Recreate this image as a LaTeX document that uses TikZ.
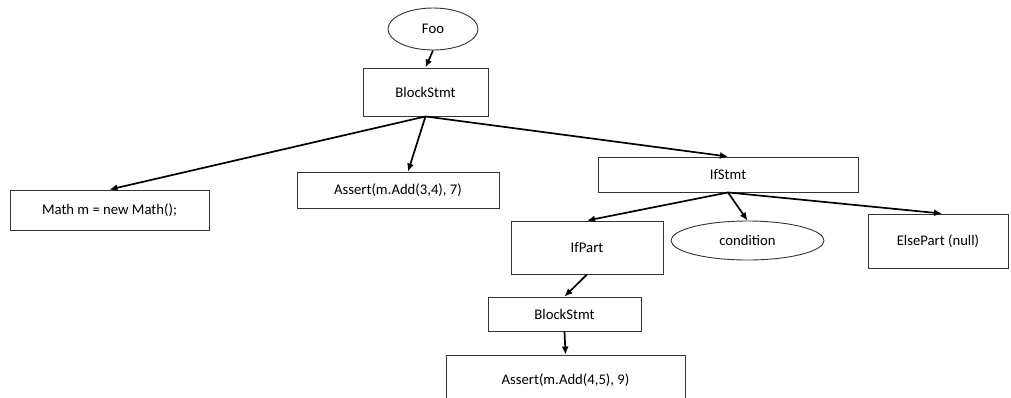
\documentclass[tikz,border=0pt]{standalone}
\usepackage{fontspec}
\setmainfont{Carlito}
\usetikzlibrary{arrows.meta, shapes.geometric}

\begin{document}
\begin{tikzpicture}[x=1pt, y=-1pt, font=\fontsize{14.7}{17}\selectfont,
  box/.style={draw=black!80, line width=0.9pt, rectangle, inner sep=0pt},
  oval/.style={draw=black!80, line width=0.9pt, ellipse, inner sep=0pt},
  edge/.style={-{Latex[length=8pt, width=7pt]}, line width=1.7pt}]
  \useasboundingbox (0,0) rectangle (1011,397);
  \clip (0,0) rectangle (1011,397);
  % tree nodes
  \node[oval, minimum width=90pt, minimum height=42pt] (foo) at (433,29) {Foo};
  \node[box, minimum width=125pt, minimum height=48pt] (block) at (425.5,92) {BlockStmt};
  \node[box, minimum width=199pt, minimum height=40pt] (math) at (109.5,210) {Math m = new Math();};
  \node[box, minimum width=202pt, minimum height=36pt] (assertA) at (398,190) {Assert(m.Add(3,4), 7)};
  \node[box, minimum width=260pt, minimum height=35pt] (ifstmt) at (728,174.5) {IfStmt};
  \node[box, minimum width=152pt, minimum height=53pt] (ifpart) at (587,247.5) {IfPart};
  \node[oval, minimum width=153pt, minimum height=39pt] (cond) at (747.5,240.5) {condition};
  \node[box, minimum width=140pt, minimum height=54pt] (elsepart) at (938,241) {ElsePart (null)};
  \node[box, minimum width=153pt, minimum height=34pt] (blockB) at (564.5,314) {BlockStmt};
  \node[box, minimum width=239pt, minimum height=50pt] (assertB) at (565.5,380) {Assert(m.Add(4,5), 9)};
  % connectors
  \draw[edge] (foo.south) -- (block.north);
  \draw[edge] (block.south) -- (math.north);
  \draw[edge] (block.south) -- ([xshift=10pt]assertA.north);
  \draw[edge] (block.south) -- (ifstmt.north);
  \draw[edge] (ifstmt.south) -- (ifpart.north);
  \draw[edge] (ifstmt.south) -- (cond.north);
  \draw[edge] (ifstmt.south) -- ([xshift=4pt]elsepart.north);
  \draw[edge] (ifpart.south) -- (blockB.north);
  \draw[edge] (blockB.south) -- (assertB.north);
\end{tikzpicture}
\end{document}
